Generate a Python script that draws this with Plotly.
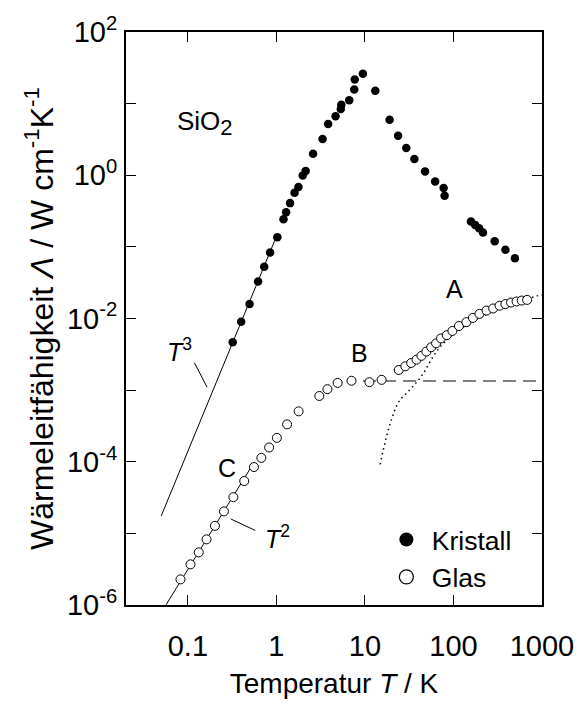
import plotly.graph_objects as go

# Thermal conductivity of SiO2: crystalline quartz (filled) and vitreous silica (open)
kristall_T = [0.321, 0.400, 0.498, 0.621, 0.729, 0.849, 1.025, 1.203, 1.288, 1.426,
              1.603, 1.774, 1.984, 2.141, 2.597, 3.322, 3.84, 4.66, 5.34, 5.41,
              6.65, 7.58, 7.68, 9.48, 13.1, 19.0, 23.7, 29.3, 36.2, 47.8,
              62.1, 77.5, 79.5, 157.8, 176.0, 194.8, 215.6, 292.4, 386.7, 494.8]
kristall_L = [4.65e-3, 9.0e-3, 0.0160, 0.0328, 0.0527, 0.0836, 0.136, 0.244, 0.305, 0.409,
              0.573, 0.685, 0.991, 1.146, 2.00, 3.21, 5.20, 6.70, 8.46, 9.69,
              11.2, 15.8, 21.8, 26.3, 15.2, 5.98, 3.57, 2.40, 1.69, 1.135,
              0.820, 0.664, 0.520, 0.227, 0.202, 0.182, 0.159, 0.120, 0.091, 0.0692]

glas_T = [0.0825, 0.107, 0.1327, 0.1626, 0.2022, 0.2555, 0.3268, 0.4333, 0.558, 0.676,
          0.828, 1.012, 1.321, 1.783, 3.055, 3.77, 4.92, 7.06, 11.24, 15.44,
          24.1, 28.6, 33.3, 38.3, 43.5, 49.4, 56.1, 63.7, 72.3, 84.2,
          97.4, 115.4, 140.0, 166.0, 196.8, 236.8, 280.8, 332.0, 386.7, 446.9,
          516.6, 591.0, 679.6]
glas_L = [2.27e-6, 3.68e-6, 5.41e-6, 8.22e-6, 1.27e-5, 2.02e-5, 3.19e-5, 5.37e-5, 8.41e-5, 1.13e-4,
          1.58e-4, 2.15e-4, 3.32e-4, 5.05e-4, 8.28e-4, 1.03e-3, 1.26e-3, 1.35e-3, 1.29e-3, 1.39e-3,
          1.91e-3, 2.15e-3, 2.39e-3, 2.66e-3, 3.01e-3, 3.45e-3, 3.97e-3, 4.50e-3, 5.27e-3, 5.85e-3,
          6.70e-3, 7.85e-3, 8.89e-3, 0.0102, 0.0116, 0.0129, 0.0138, 0.0151, 0.0159, 0.0167,
          0.0173, 0.0178, 0.0182]

# power-law guides (endpoints)
t3_T = [0.05, 1.0]
t3_L = [1.75e-5, 0.14]
t2_T = [0.05, 0.56]
t2_L = [7.8e-7, 9.8e-5]

# plateau (B) and high-temperature contribution (A)
plateau_T = [9.5, 1000.0]
plateau_L = [1.34e-3, 1.34e-3]
hoch_T = [14.86, 17.18, 20.3, 24.1, 31.9, 40.0, 47.5, 56.1, 66.5, 78.9,
          110.6, 208.6, 447.0, 880.0, 1000.0]
hoch_L = [9.18e-5, 2.02e-4, 4.13e-4, 6.85e-4, 1.0e-3, 1.37e-3, 1.84e-3, 2.66e-3, 3.65e-3, 4.62e-3,
          6.64e-3, 0.01065, 0.01556, 0.0207, 0.0213]

x_ticks = [0.1, 1, 10, 100, 1000]
x_labels = ["0.1", "1", "10", "100", "1000"]
y_exps = list(range(-6, 3))

FONT = "Liberation Sans, Arial, Helvetica, sans-serif"

fig = go.Figure()

fig.add_trace(go.Scatter(x=t3_T, y=t3_L, mode="lines",
                         line=dict(color="black", width=1), showlegend=False, hoverinfo="skip"))
fig.add_trace(go.Scatter(x=t2_T, y=t2_L, mode="lines",
                         line=dict(color="black", width=1), showlegend=False, hoverinfo="skip"))
fig.add_trace(go.Scatter(x=plateau_T, y=plateau_L, mode="lines",
                         line=dict(color="black", width=1, dash="13px,7px"),
                         showlegend=False, hoverinfo="skip"))
fig.add_trace(go.Scatter(x=hoch_T, y=hoch_L, mode="lines", line_shape="spline",
                         line=dict(color="black", width=1.5, dash="1.5px,3.5px"),
                         showlegend=False, hoverinfo="skip"))

fig.add_trace(go.Scatter(x=kristall_T, y=kristall_L, mode="markers", name="Kristall",
                         marker=dict(symbol="circle", size=8.5, color="black",
                                     line=dict(width=0)),
                         showlegend=False))
fig.add_trace(go.Scatter(x=glas_T, y=glas_L, mode="markers", name="Glas",
                         marker=dict(symbol="circle", size=9, color="white",
                                     line=dict(width=1, color="black")),
                         showlegend=False))

# legend keys
fig.add_trace(go.Scatter(x=[None], y=[None], mode="markers", name="Kristall",
                         marker=dict(symbol="circle", size=14, color="black",
                                     line=dict(width=0))))
fig.add_trace(go.Scatter(x=[None], y=[None], mode="markers", name="Glas",
                         marker=dict(symbol="circle", size=14, color="white",
                                     line=dict(width=1.2, color="black"))))

axis_common = dict(
    showline=True, linewidth=2, linecolor="black", mirror="ticks",
    ticks="inside", ticklen=10, tickwidth=1.3, tickcolor="black",
    showgrid=False, zeroline=False,
    tickfont=dict(family=FONT, size=29, color="black"),
)

fig.update_xaxes(type="log", range=[-1.699, 3.0005],
                 tickmode="array", tickvals=x_ticks, ticktext=x_labels,
                 ticklabelstandoff=14,
                 title=dict(text="Temperatur <i>T</i> / K",
                            font=dict(family=FONT, size=28, color="black"), standoff=13),
                 **axis_common)
fig.update_yaxes(type="log", range=[-6.002, 2.002],
                 tickmode="array", tickvals=[10.0 ** e for e in y_exps],
                 ticktext=[("10<sup>%d</sup>" % e) if e % 2 == 0 else "" for e in y_exps],
                 ticklabelstandoff=1,
                 title=dict(text="Wärmeleitfähigkeit <i>Λ</i> / W cm<sup>-1</sup>K<sup>-1</sup>",
                            font=dict(family=FONT, size=32, color="black"), standoff=4),
                 **axis_common)

def px(x, y):
    return (x - 126) / 426.0, (615 - y) / 584.0

labels = [
    ("SiO<sub><span style='font-size:22px'>2</span></sub>", 176, 124, "left", 26),
    ("<i>T</i><sup>3</sup>", 181, 355, "center", 25),
    ("<i>T</i><sup>2</sup>", 281, 546, "center", 25),
    ("C", 229.5, 475.5, "center", 25),
    ("B", 365.5, 358, "center", 25),
    ("A", 462, 293, "center", 25),
]
for text, x, y, anc, size in labels:
    xp, yp = px(x, y)
    fig.add_annotation(text=text, x=xp, y=yp, xref="paper", yref="paper",
                       xanchor=anc, yanchor="middle", showarrow=False,
                       font=dict(family=FONT, size=size, color="black"))

for (x0, y0, x1, y1) in [(196, 368, 209, 393), (233.3, 527.3, 258.3, 539)]:
    a0, b0 = px(x0, y0)
    a1, b1 = px(x1, y1)
    fig.add_shape(type="line", xref="paper", yref="paper", x0=a0, y0=b0, x1=a1, y1=b1,
                  line=dict(color="black", width=1))

lx, ly = px(387, 524)
fig.update_layout(
    width=586, height=706,
    margin=dict(l=126, r=34, t=31, b=91),
    paper_bgcolor="white", plot_bgcolor="white",
    font=dict(family=FONT, color="black"),
    legend=dict(x=lx, y=ly, xanchor="left", yanchor="top",
                bgcolor="rgba(0,0,0,0)", borderwidth=0,
                font=dict(family=FONT, size=26.5, color="black"),
                itemwidth=41, tracegroupgap=0),
)

fig.write_html("out.html")
